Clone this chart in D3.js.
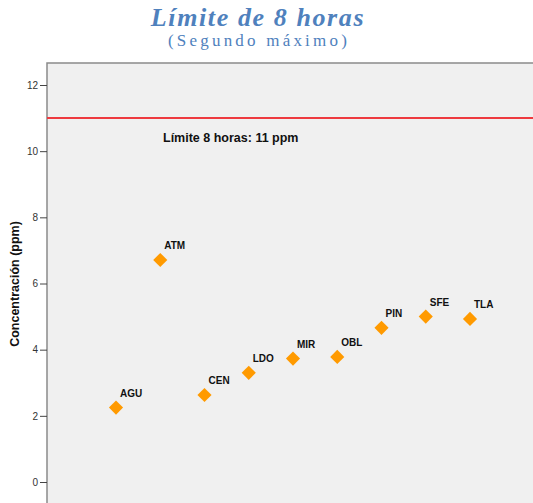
<!DOCTYPE html>
<html><head><meta charset="utf-8">
<script src="https://cdn.jsdelivr.net/npm/d3@7"></script>
<style>body{margin:0;background:#fff}svg{display:block}</style>
</head><body>
<script>
const categories = ["AGU","ATM","CEN","LDO","MIR","OBL","PIN","SFE","TLA"];
const values = [2.25, 6.71, 2.63, 3.30, 3.73, 3.78, 4.66, 5.00, 4.93];
const yTicks = [0, 2, 4, 6, 8, 10, 12];
const limitValue = 11;
const limitLabel = "Límite 8 horas: 11 ppm";
const titleText = "Límite de 8 horas";
const subtitleText = "(Segundo máximo)";
const yLabel = "Concentración (ppm)";

const W = 533, H = 503;
const svg = d3.select("body").append("svg").attr("width", W).attr("height", H);

const plotL = 47, plotT = 63;
svg.append("rect").attr("x", plotL).attr("y", plotT).attr("width", W - plotL + 2).attr("height", H - plotT + 2)
  .attr("fill", "#f0f0f0").attr("stroke", "#8a8a8a").attr("stroke-width", 1.5);

const y = d3.scaleLinear().domain([0, 12]).range([482, 85]);
const x = d3.scalePoint().domain(categories).range([116, 470]);

// y axis
const ax = svg.append("g").attr("transform", `translate(${plotL},0)`)
  .call(d3.axisLeft(y).tickValues(yTicks).tickSize(7).tickPadding(2).tickFormat(d3.format("d")));
ax.select(".domain").remove();
ax.selectAll(".tick line").attr("stroke", "#444");
ax.selectAll(".tick text").attr("fill", "#333").attr("font-family", "Arial, 'Liberation Sans', sans-serif").attr("font-size", 10);

// limit line
svg.append("line").attr("x1", plotL).attr("x2", W).attr("y1", y(limitValue)).attr("y2", y(limitValue))
  .attr("stroke", "#ee3a3f").attr("stroke-width", 2);
svg.append("text").attr("x", 163).attr("y", 141.5).text(limitLabel)
  .attr("font-family", "Arial, 'Liberation Sans', sans-serif").attr("font-weight", "bold").attr("font-size", 12.5).attr("fill", "#111");

// points
const sym = d3.symbol().type(d3.symbolSquare).size(100);
const g = svg.append("g");
categories.forEach((c, i) => {
  const cx = x(c), cy = y(values[i]);
  g.append("path").attr("d", sym()).attr("transform", `translate(${cx},${cy}) rotate(45)`).attr("fill", "#ff9a00");
  g.append("text").attr("x", cx + 4).attr("y", cy - 11).text(c)
    .attr("font-family", "Arial, 'Liberation Sans', sans-serif").attr("font-weight", "bold").attr("font-size", 10).attr("fill", "#111");
});

// y label
svg.append("text").attr("transform", `translate(19,284) rotate(-90)`).attr("text-anchor", "middle").text(yLabel)
  .attr("font-family", "Arial, 'Liberation Sans', sans-serif").attr("font-weight", "bold").attr("font-size", 12.5).attr("fill", "#111");

// titles
svg.append("text").attr("x", 258).attr("y", 26).attr("text-anchor", "middle").text(titleText)
  .attr("font-family", "'Liberation Serif', 'Times New Roman', serif").attr("font-weight", "bold").attr("font-style", "italic")
  .attr("font-size", 26).attr("letter-spacing", 1.6).attr("fill", "#4f81bd");
svg.append("text").attr("x", 259).attr("y", 46).attr("text-anchor", "middle").text(subtitleText)
  .attr("font-family", "'Liberation Serif', 'Times New Roman', serif").attr("font-size", 17).attr("letter-spacing", 3.2).attr("fill", "#4f81bd");
</script>
</body></html>
